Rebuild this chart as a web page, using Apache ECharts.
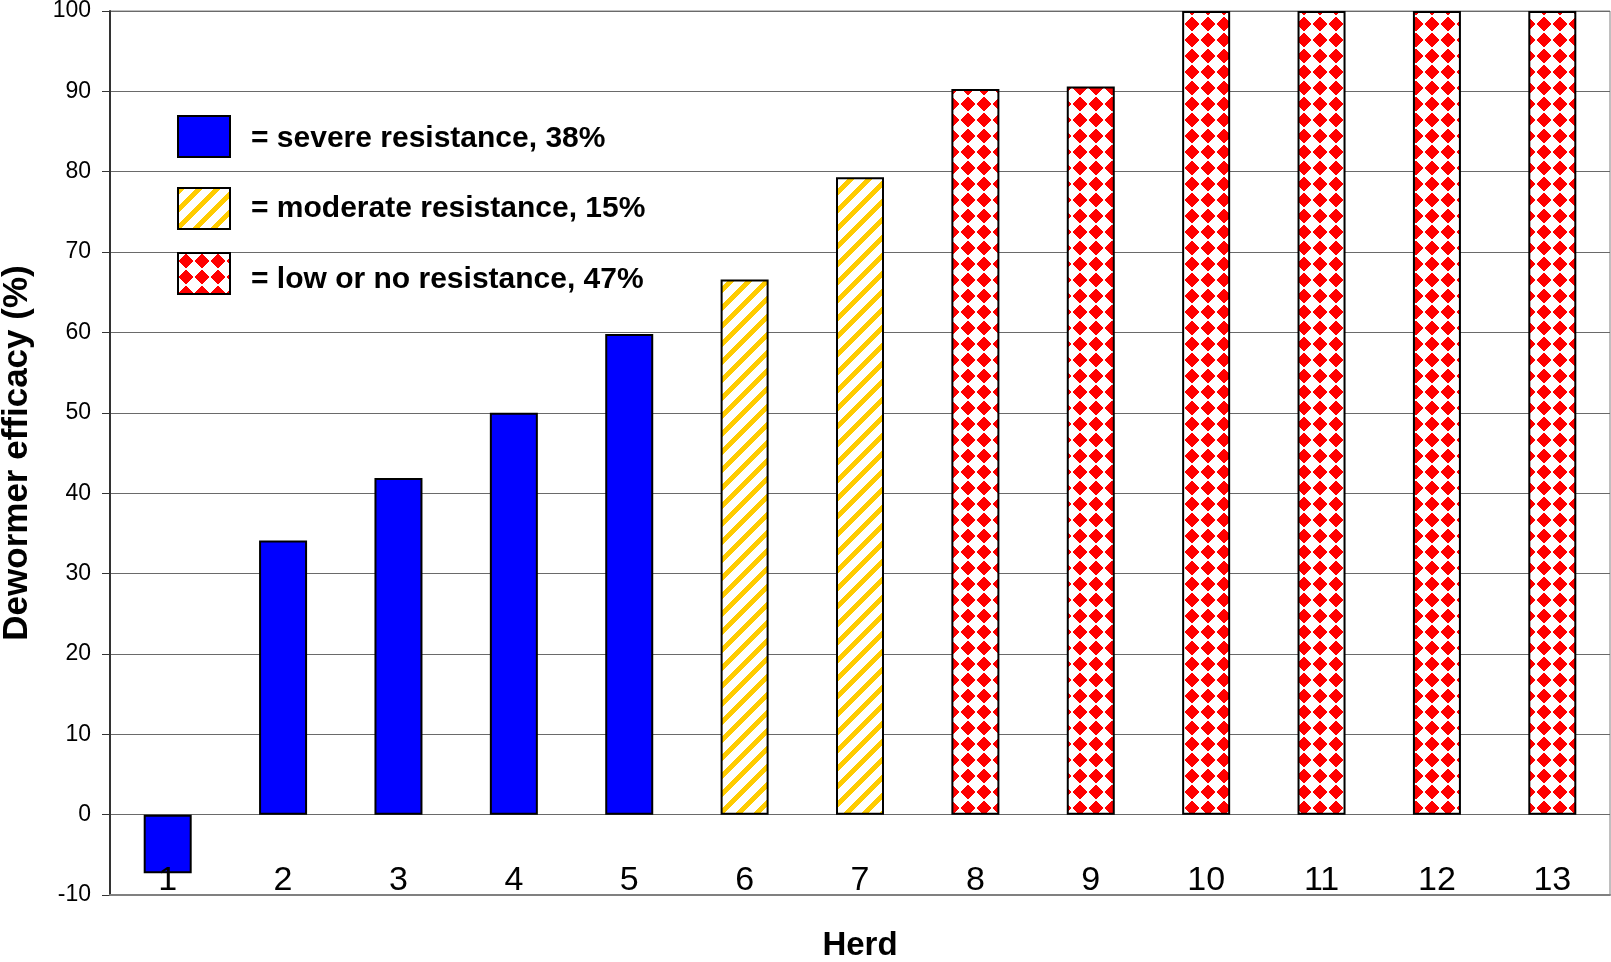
<!DOCTYPE html>
<html>
<head>
<meta charset="utf-8">
<script src="https://cdn.jsdelivr.net/npm/echarts@6/dist/echarts.min.js"></script>
<style>
html,body{margin:0;padding:0;background:#fff;}
#chart{width:1611px;height:962px;}
</style>
</head>
<body>
<div id="chart"></div>
<script>
// ---- data ----
const herds = ['1','2','3','4','5','6','7','8','9','10','11','12','13'];
const efficacy = [-7.3, 34.1, 41.9, 50.0, 59.8, 66.6, 79.3, 90.3, 90.6, 100, 100, 100, 100];
const groupOfHerd = [0,0,0,0,0,1,1,2,2,2,2,2,2];
const groupLabels = ['= severe resistance, 38%', '= moderate resistance, 15%', '= low or no resistance, 47%'];
const yMin = -10, yMax = 100, yStep = 10;

// ---- patterns ----
function makeTile(w, h, fn) {
  const c = document.createElement('canvas');
  c.width = w; c.height = h;
  const ctx = c.getContext('2d');
  const img = ctx.createImageData(w, h);
  for (let y = 0; y < h; y++) for (let x = 0; x < w; x++) {
    const col = fn(x, y);
    const i = (y * w + x) * 4;
    img.data[i] = col[0]; img.data[i+1] = col[1]; img.data[i+2] = col[2]; img.data[i+3] = 255;
  }
  ctx.putImageData(img, 0, 0);
  return c;
}
const WHITE = [255,255,255];
const stripeTile = makeTile(18, 18, (x, y) => ((x + y) % 18 < 7 ? [255,204,0] : WHITE));
const diamondTile = makeTile(16, 16, (x, y) => (Math.abs(x - 7.5) + Math.abs(y - 7.5) <= 7 ? [255,0,0] : WHITE));

const fills = [
  '#0000FF',
  { image: stripeTile, repeat: 'repeat' },
  { image: diamondTile, repeat: 'repeat' }
];

const series = groupLabels.map((name, g) => ({
  name: name,
  type: 'bar',
  barWidth: 48,
  barGap: '-100%',
  data: efficacy.map((v, i) => (groupOfHerd[i] === g ? v : '-')),
  itemStyle: { color: fills[g], borderColor: '#000', borderWidth: 2 },
  emphasis: { disabled: true },
  animation: false
}));

const legendTops = [115, 187, 252];
const legendTextPad = [[4, 0, 0, 16], [0, 0, 0, 16], [12, 0, 0, 16]];
const legends = groupLabels.map((name, g) => ({
  data: [name],
  left: 177,
  top: legendTops[g],
  orient: 'vertical',
  padding: 0,
  icon: 'rect',
  itemWidth: 52,
  itemHeight: 41,
  selectedMode: false,
  formatter: n => '{t|' + n + '}',
  textStyle: {
    fontFamily: 'Liberation Sans, Arial, sans-serif',
    fontWeight: 'bold',
    fontSize: 30,
    color: '#000',
    rich: {
      t: {
        fontFamily: 'Liberation Sans, Arial, sans-serif',
        fontWeight: 'bold',
        fontSize: 30,
        color: '#000',
        padding: legendTextPad[g]
      }
    }
  }
}));

const chart = echarts.init(document.getElementById('chart'), null, { renderer: 'canvas' });
chart.setOption({
  animation: false,
  backgroundColor: '#fff',
  grid: {
    left: 110, right: 1, top: 11, bottom: 67,
    containLabel: false,
    outerBoundsMode: 'none',
    show: true, borderColor: '#808080', borderWidth: 1
  },
  legend: legends,
  xAxis: {
    type: 'category',
    data: herds,
    z: 10,
    name: 'Herd',
    nameLocation: 'middle',
    nameGap: 34,
    nameTextStyle: { fontFamily: 'Liberation Sans, Arial, sans-serif', fontWeight: 'bold', fontSize: 33, color: '#000' },
    axisLine: { onZero: false, lineStyle: { color: '#808080', width: 2 } },
    axisTick: { show: false },
    axisLabel: {
      inside: true,
      margin: -3,
      fontFamily: 'Liberation Sans, Arial, sans-serif',
      fontSize: 34,
      color: '#000'
    },
    splitLine: { show: false }
  },
  yAxis: {
    type: 'value',
    min: yMin, max: yMax, interval: yStep,
    name: 'Dewormer efficacy (%)',
    nameLocation: 'middle',
    nameGap: 75,
    nameTextStyle: { fontFamily: 'Liberation Sans, Arial, sans-serif', fontWeight: 'bold', fontSize: 35, color: '#000' },
    axisLine: { show: true, lineStyle: { color: '#333', width: 2 } },
    axisTick: { show: true, length: 8, lineStyle: { color: '#333', width: 1 } },
    axisLabel: {
      margin: 19,
      fontFamily: 'Liberation Sans, Arial, sans-serif',
      fontSize: 23,
      color: '#000'
    },
    splitLine: { show: true, lineStyle: { color: '#6a6a6a', width: 1 } }
  },
  series: series
});
</script>
</body>
</html>
